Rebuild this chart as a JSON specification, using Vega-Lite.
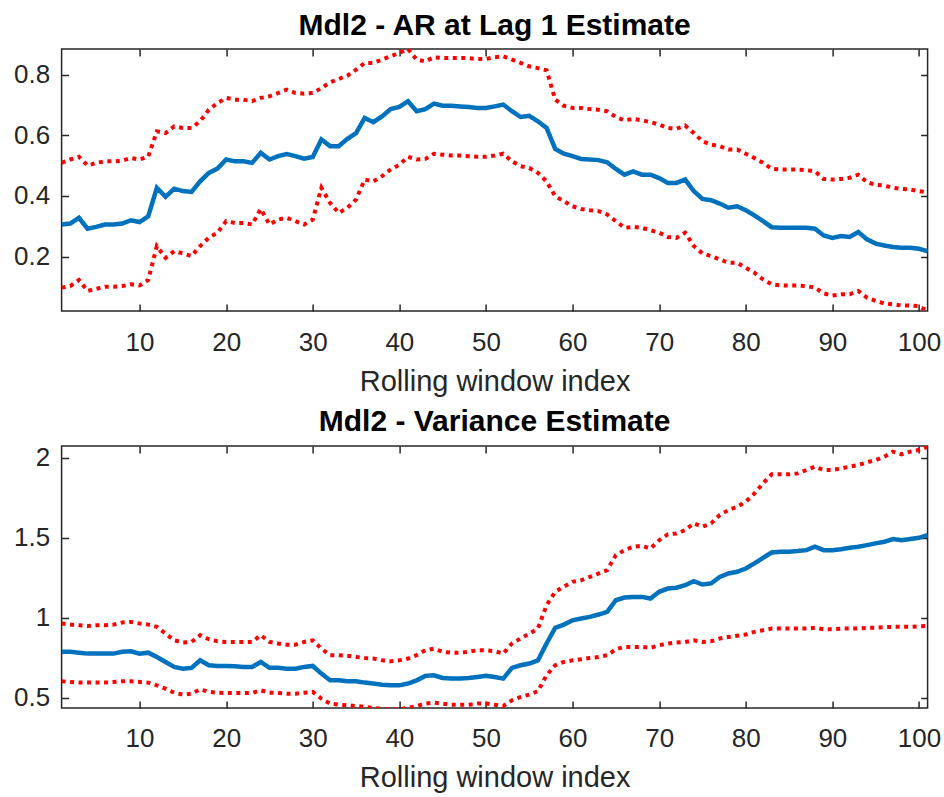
{
  "$schema": "https://vega.github.io/schema/vega-lite/v6.json",
  "padding": {"left": 5.6, "top": 10, "right": 5, "bottom": 5},
  "spacing": 9,
  "config": {
    "font": "Liberation Sans",
    "view": {"stroke": "#262626", "strokeWidth": 1.5},
    "axis": {"domain": false, "grid": false, "ticks": true, "tickSize": -7, "tickColor": "#262626", "tickWidth": 1.5, "labelFont": "Liberation Sans", "labelFontSize": 26, "labelColor": "#262626", "titleFont": "Liberation Sans", "titleFontSize": 29, "titleFontWeight": "normal", "titleColor": "#262626", "labelFlush": false},
    "axisY": {"labelPadding": 19, "minExtent": 55, "maxExtent": 55},
    "axisX": {"labelPadding": 25, "titlePadding": 12},
    "title": {"font": "Liberation Sans", "fontSize": 30, "fontWeight": "bold", "color": "#000000", "baseline": "alphabetic", "offset": 7.5, "anchor": "middle"}
  },
  "datasets": {
    "ar": [
      {"i":1,"est":0.306,"lo":0.098,"hi":0.509},{"i":2,"est":0.309,"lo":0.103,"hi":0.520},{"i":3,"est":0.328,"lo":0.123,"hi":0.529},{"i":4,"est":0.292,"lo":0.087,"hi":0.500},{"i":5,"est":0.298,"lo":0.094,"hi":0.509},
      {"i":6,"est":0.306,"lo":0.101,"hi":0.514},{"i":7,"est":0.306,"lo":0.101,"hi":0.514},{"i":8,"est":0.309,"lo":0.103,"hi":0.516},{"i":9,"est":0.320,"lo":0.109,"hi":0.525},{"i":10,"est":0.314,"lo":0.105,"hi":0.520},
      {"i":11,"est":0.333,"lo":0.123,"hi":0.529},{"i":12,"est":0.427,"lo":0.235,"hi":0.613},{"i":13,"est":0.397,"lo":0.196,"hi":0.607},{"i":14,"est":0.424,"lo":0.218,"hi":0.629},{"i":15,"est":0.416,"lo":0.211,"hi":0.624},
      {"i":16,"est":0.413,"lo":0.202,"hi":0.624},{"i":17,"est":0.448,"lo":0.235,"hi":0.646},{"i":18,"est":0.476,"lo":0.262,"hi":0.684},{"i":19,"est":0.490,"lo":0.279,"hi":0.706},{"i":20,"est":0.520,"lo":0.317,"hi":0.723},
      {"i":21,"est":0.514,"lo":0.311,"hi":0.717},{"i":22,"est":0.514,"lo":0.311,"hi":0.717},{"i":23,"est":0.509,"lo":0.306,"hi":0.712},{"i":24,"est":0.542,"lo":0.357,"hi":0.723},{"i":25,"est":0.520,"lo":0.306,"hi":0.728},
      {"i":26,"est":0.531,"lo":0.322,"hi":0.739},{"i":27,"est":0.538,"lo":0.328,"hi":0.750},{"i":28,"est":0.531,"lo":0.317,"hi":0.739},{"i":29,"est":0.523,"lo":0.306,"hi":0.737},{"i":30,"est":0.528,"lo":0.322,"hi":0.739},
      {"i":31,"est":0.586,"lo":0.427,"hi":0.755},{"i":32,"est":0.564,"lo":0.377,"hi":0.774},{"i":33,"est":0.564,"lo":0.344,"hi":0.785},{"i":34,"est":0.588,"lo":0.361,"hi":0.796},{"i":35,"est":0.607,"lo":0.388,"hi":0.816},
      {"i":36,"est":0.657,"lo":0.454,"hi":0.838},{"i":37,"est":0.643,"lo":0.448,"hi":0.838},{"i":38,"est":0.662,"lo":0.465,"hi":0.849},{"i":39,"est":0.686,"lo":0.487,"hi":0.860},{"i":40,"est":0.693,"lo":0.503,"hi":0.871},
      {"i":41,"est":0.712,"lo":0.529,"hi":0.884},{"i":42,"est":0.679,"lo":0.520,"hi":0.849},{"i":43,"est":0.686,"lo":0.522,"hi":0.843},{"i":44,"est":0.704,"lo":0.539,"hi":0.857},{"i":45,"est":0.697,"lo":0.536,"hi":0.854},
      {"i":46,"est":0.697,"lo":0.533,"hi":0.854},{"i":47,"est":0.695,"lo":0.533,"hi":0.854},{"i":48,"est":0.693,"lo":0.531,"hi":0.854},{"i":49,"est":0.690,"lo":0.529,"hi":0.851},{"i":50,"est":0.690,"lo":0.529,"hi":0.851},
      {"i":51,"est":0.695,"lo":0.533,"hi":0.857},{"i":52,"est":0.701,"lo":0.539,"hi":0.860},{"i":53,"est":0.679,"lo":0.514,"hi":0.849},{"i":54,"est":0.660,"lo":0.498,"hi":0.838},{"i":55,"est":0.664,"lo":0.492,"hi":0.827},
      {"i":56,"est":0.646,"lo":0.476,"hi":0.821},{"i":57,"est":0.624,"lo":0.448,"hi":0.814},{"i":58,"est":0.555,"lo":0.399,"hi":0.717},{"i":59,"est":0.539,"lo":0.383,"hi":0.697},{"i":60,"est":0.531,"lo":0.366,"hi":0.690},
      {"i":61,"est":0.522,"lo":0.357,"hi":0.690},{"i":62,"est":0.520,"lo":0.353,"hi":0.686},{"i":63,"est":0.518,"lo":0.350,"hi":0.684},{"i":64,"est":0.511,"lo":0.339,"hi":0.679},{"i":65,"est":0.489,"lo":0.317,"hi":0.660},
      {"i":66,"est":0.470,"lo":0.295,"hi":0.649},{"i":67,"est":0.481,"lo":0.298,"hi":0.654},{"i":68,"est":0.470,"lo":0.295,"hi":0.649},{"i":69,"est":0.470,"lo":0.287,"hi":0.643},{"i":70,"est":0.459,"lo":0.279,"hi":0.635},
      {"i":71,"est":0.443,"lo":0.265,"hi":0.624},{"i":72,"est":0.443,"lo":0.262,"hi":0.621},{"i":73,"est":0.454,"lo":0.279,"hi":0.632},{"i":74,"est":0.416,"lo":0.235,"hi":0.607},{"i":75,"est":0.390,"lo":0.211,"hi":0.580},
      {"i":76,"est":0.386,"lo":0.202,"hi":0.569},{"i":77,"est":0.375,"lo":0.191,"hi":0.564},{"i":78,"est":0.361,"lo":0.180,"hi":0.553},{"i":79,"est":0.366,"lo":0.180,"hi":0.553},{"i":80,"est":0.353,"lo":0.163,"hi":0.539},
      {"i":81,"est":0.336,"lo":0.147,"hi":0.525},{"i":82,"est":0.317,"lo":0.125,"hi":0.509},{"i":83,"est":0.297,"lo":0.109,"hi":0.489},{"i":84,"est":0.295,"lo":0.105,"hi":0.487},{"i":85,"est":0.295,"lo":0.105,"hi":0.487},
      {"i":86,"est":0.295,"lo":0.105,"hi":0.487},{"i":87,"est":0.295,"lo":0.103,"hi":0.485},{"i":88,"est":0.292,"lo":0.098,"hi":0.481},{"i":89,"est":0.270,"lo":0.079,"hi":0.456},{"i":90,"est":0.262,"lo":0.072,"hi":0.454},
      {"i":91,"est":0.268,"lo":0.076,"hi":0.456},{"i":92,"est":0.265,"lo":0.076,"hi":0.460},{"i":93,"est":0.281,"lo":0.087,"hi":0.470},{"i":94,"est":0.257,"lo":0.065,"hi":0.445},{"i":95,"est":0.243,"lo":0.054,"hi":0.437},
      {"i":96,"est":0.237,"lo":0.046,"hi":0.434},{"i":97,"est":0.232,"lo":0.043,"hi":0.427},{"i":98,"est":0.229,"lo":0.039,"hi":0.423},{"i":99,"est":0.229,"lo":0.039,"hi":0.421},{"i":100,"est":0.226,"lo":0.037,"hi":0.416},
      {"i":101,"est":0.218,"lo":0.021,"hi":0.412}
    ],
    "var": [
      {"i":1,"est":0.788,"lo":0.604,"hi":0.965},{"i":2,"est":0.788,"lo":0.600,"hi":0.958},{"i":3,"est":0.783,"lo":0.596,"hi":0.954},{"i":4,"est":0.777,"lo":0.596,"hi":0.950},{"i":5,"est":0.777,"lo":0.596,"hi":0.954},
      {"i":6,"est":0.777,"lo":0.596,"hi":0.954},{"i":7,"est":0.777,"lo":0.600,"hi":0.958},{"i":8,"est":0.788,"lo":0.604,"hi":0.971},{"i":9,"est":0.792,"lo":0.604,"hi":0.975},{"i":10,"est":0.777,"lo":0.600,"hi":0.965},
      {"i":11,"est":0.783,"lo":0.596,"hi":0.958},{"i":12,"est":0.756,"lo":0.579,"hi":0.944},{"i":13,"est":0.725,"lo":0.558,"hi":0.902},{"i":14,"est":0.694,"lo":0.533,"hi":0.860},{"i":15,"est":0.683,"lo":0.521,"hi":0.846},
      {"i":16,"est":0.688,"lo":0.527,"hi":0.850},{"i":17,"est":0.735,"lo":0.554,"hi":0.892},{"i":18,"est":0.704,"lo":0.538,"hi":0.867},{"i":19,"est":0.700,"lo":0.533,"hi":0.854},{"i":20,"est":0.700,"lo":0.531,"hi":0.850},
      {"i":21,"est":0.698,"lo":0.531,"hi":0.850},{"i":22,"est":0.694,"lo":0.531,"hi":0.850},{"i":23,"est":0.694,"lo":0.531,"hi":0.850},{"i":24,"est":0.725,"lo":0.548,"hi":0.892},{"i":25,"est":0.688,"lo":0.533,"hi":0.850},
      {"i":26,"est":0.688,"lo":0.531,"hi":0.840},{"i":27,"est":0.683,"lo":0.527,"hi":0.833},{"i":28,"est":0.683,"lo":0.527,"hi":0.833},{"i":29,"est":0.694,"lo":0.533,"hi":0.850},{"i":30,"est":0.700,"lo":0.538,"hi":0.860},
      {"i":31,"est":0.652,"lo":0.496,"hi":0.808},{"i":32,"est":0.610,"lo":0.465,"hi":0.767},{"i":33,"est":0.610,"lo":0.458,"hi":0.767},{"i":34,"est":0.604,"lo":0.454,"hi":0.763},{"i":35,"est":0.604,"lo":0.450,"hi":0.756},
      {"i":36,"est":0.596,"lo":0.444,"hi":0.750},{"i":37,"est":0.590,"lo":0.438,"hi":0.746},{"i":38,"est":0.583,"lo":0.433,"hi":0.735},{"i":39,"est":0.579,"lo":0.429,"hi":0.729},{"i":40,"est":0.579,"lo":0.429,"hi":0.735},
      {"i":41,"est":0.590,"lo":0.438,"hi":0.746},{"i":42,"est":0.610,"lo":0.450,"hi":0.767},{"i":43,"est":0.638,"lo":0.465,"hi":0.798},{"i":44,"est":0.642,"lo":0.471,"hi":0.808},{"i":45,"est":0.625,"lo":0.465,"hi":0.788},
      {"i":46,"est":0.621,"lo":0.458,"hi":0.783},{"i":47,"est":0.621,"lo":0.458,"hi":0.783},{"i":48,"est":0.625,"lo":0.458,"hi":0.788},{"i":49,"est":0.631,"lo":0.465,"hi":0.798},{"i":50,"est":0.638,"lo":0.465,"hi":0.798},
      {"i":51,"est":0.631,"lo":0.458,"hi":0.792},{"i":52,"est":0.621,"lo":0.450,"hi":0.777},{"i":53,"est":0.688,"lo":0.485,"hi":0.840},{"i":54,"est":0.704,"lo":0.506,"hi":0.871},{"i":55,"est":0.715,"lo":0.521,"hi":0.902},
      {"i":56,"est":0.735,"lo":0.542,"hi":0.933},{"i":57,"est":0.840,"lo":0.642,"hi":1.079},{"i":58,"est":0.938,"lo":0.704,"hi":1.163},{"i":59,"est":0.958,"lo":0.725,"hi":1.194},{"i":60,"est":0.985,"lo":0.735,"hi":1.225},
      {"i":61,"est":0.996,"lo":0.742,"hi":1.235},{"i":62,"est":1.006,"lo":0.750,"hi":1.256},{"i":63,"est":1.021,"lo":0.756,"hi":1.277},{"i":64,"est":1.038,"lo":0.767,"hi":1.298},{"i":65,"est":1.110,"lo":0.804,"hi":1.392},
      {"i":66,"est":1.127,"lo":0.819,"hi":1.423},{"i":67,"est":1.131,"lo":0.819,"hi":1.444},{"i":68,"est":1.131,"lo":0.819,"hi":1.450},{"i":69,"est":1.121,"lo":0.813,"hi":1.433},{"i":70,"est":1.163,"lo":0.829,"hi":1.485},
      {"i":71,"est":1.183,"lo":0.840,"hi":1.521},{"i":72,"est":1.188,"lo":0.846,"hi":1.527},{"i":73,"est":1.204,"lo":0.850,"hi":1.548},{"i":74,"est":1.229,"lo":0.860,"hi":1.590},{"i":75,"est":1.208,"lo":0.850,"hi":1.569},
      {"i":76,"est":1.215,"lo":0.854,"hi":1.590},{"i":77,"est":1.256,"lo":0.871,"hi":1.642},{"i":78,"est":1.277,"lo":0.881,"hi":1.673},{"i":79,"est":1.288,"lo":0.888,"hi":1.694},{"i":80,"est":1.308,"lo":0.896,"hi":1.725},
      {"i":81,"est":1.340,"lo":0.913,"hi":1.777},{"i":82,"est":1.375,"lo":0.923,"hi":1.840},{"i":83,"est":1.408,"lo":0.933,"hi":1.896},{"i":84,"est":1.413,"lo":0.933,"hi":1.896},{"i":85,"est":1.413,"lo":0.933,"hi":1.896},
      {"i":86,"est":1.417,"lo":0.933,"hi":1.902},{"i":87,"est":1.423,"lo":0.933,"hi":1.923},{"i":88,"est":1.444,"lo":0.938,"hi":1.944},{"i":89,"est":1.423,"lo":0.929,"hi":1.923},{"i":90,"est":1.423,"lo":0.929,"hi":1.923},
      {"i":91,"est":1.429,"lo":0.933,"hi":1.933},{"i":92,"est":1.438,"lo":0.933,"hi":1.944},{"i":93,"est":1.444,"lo":0.933,"hi":1.954},{"i":94,"est":1.454,"lo":0.938,"hi":1.971},{"i":95,"est":1.465,"lo":0.938,"hi":1.985},
      {"i":96,"est":1.475,"lo":0.942,"hi":2.006},{"i":97,"est":1.492,"lo":0.944,"hi":2.038},{"i":98,"est":1.485,"lo":0.944,"hi":2.021},{"i":99,"est":1.492,"lo":0.944,"hi":2.038},{"i":100,"est":1.500,"lo":0.948,"hi":2.048},
      {"i":101,"est":1.517,"lo":0.950,"hi":2.069}
    ]
  },
  "vconcat": [
    {
      "width": 866,
      "height": 262,
      "data": {"name": "ar"},
      "title": {"text": "Mdl2 - AR at Lag 1 Estimate"},
      "layer": [
        {
          "mark": {"type": "line", "color": "#0072BD", "strokeWidth": 4.5, "clip": true},
          "encoding": {
            "x": {"field": "i", "type": "quantitative", "scale": {"domain": [1, 101], "nice": false, "zero": false}, "axis": {"orient": "bottom", "values": [10, 20, 30, 40, 50, 60, 70, 80, 90, 100], "title": "Rolling window index"}},
            "y": {"field": "est", "type": "quantitative", "scale": {"domain": [0.021, 0.884], "nice": false, "zero": false}, "axis": {"orient": "left", "values": [0.2, 0.4, 0.6, 0.8], "format": "~g", "title": null}}
          }
        },
        {
          "mark": {"type": "line", "color": "#FF0000", "strokeWidth": 4, "strokeDash": [4, 4.5], "clip": true},
          "encoding": {
            "x": {"field": "i", "type": "quantitative", "axis": null},
            "y": {"field": "hi", "type": "quantitative", "axis": null}
          }
        },
        {
          "mark": {"type": "line", "color": "#FF0000", "strokeWidth": 4, "strokeDash": [4, 4.5], "clip": true},
          "encoding": {
            "x": {"field": "i", "type": "quantitative", "axis": null},
            "y": {"field": "lo", "type": "quantitative", "axis": null}
          }
        },
        {
          "mark": {"type": "line", "opacity": 0},
          "encoding": {
            "x": {"field": "i", "type": "quantitative", "axis": {"orient": "top", "values": [10, 20, 30, 40, 50, 60, 70, 80, 90, 100], "labels": false, "title": null}},
            "y": {"field": "est", "type": "quantitative", "axis": {"orient": "right", "values": [0.2, 0.4, 0.6, 0.8], "labels": false, "title": null, "minExtent": 0, "maxExtent": 0}}
          }
        }
      ]
    },
    {
      "width": 866,
      "height": 262,
      "data": {"name": "var"},
      "title": {"text": "Mdl2 - Variance Estimate"},
      "layer": [
        {
          "mark": {"type": "line", "color": "#0072BD", "strokeWidth": 4.5, "clip": true},
          "encoding": {
            "x": {"field": "i", "type": "quantitative", "scale": {"domain": [1, 101], "nice": false, "zero": false}, "axis": {"orient": "bottom", "values": [10, 20, 30, 40, 50, 60, 70, 80, 90, 100], "title": "Rolling window index"}},
            "y": {"field": "est", "type": "quantitative", "scale": {"domain": [0.4375, 2.073], "nice": false, "zero": false}, "axis": {"orient": "left", "values": [0.5, 1, 1.5, 2], "format": "~g", "title": null}}
          }
        },
        {
          "mark": {"type": "line", "color": "#FF0000", "strokeWidth": 4, "strokeDash": [4, 4.5], "clip": true},
          "encoding": {
            "x": {"field": "i", "type": "quantitative", "axis": null},
            "y": {"field": "hi", "type": "quantitative", "axis": null}
          }
        },
        {
          "mark": {"type": "line", "color": "#FF0000", "strokeWidth": 4, "strokeDash": [4, 4.5], "clip": true},
          "encoding": {
            "x": {"field": "i", "type": "quantitative", "axis": null},
            "y": {"field": "lo", "type": "quantitative", "axis": null}
          }
        },
        {
          "mark": {"type": "line", "opacity": 0},
          "encoding": {
            "x": {"field": "i", "type": "quantitative", "axis": {"orient": "top", "values": [10, 20, 30, 40, 50, 60, 70, 80, 90, 100], "labels": false, "title": null}},
            "y": {"field": "est", "type": "quantitative", "axis": {"orient": "right", "values": [0.5, 1, 1.5, 2], "labels": false, "title": null, "minExtent": 0, "maxExtent": 0}}
          }
        }
      ]
    }
  ]
}
